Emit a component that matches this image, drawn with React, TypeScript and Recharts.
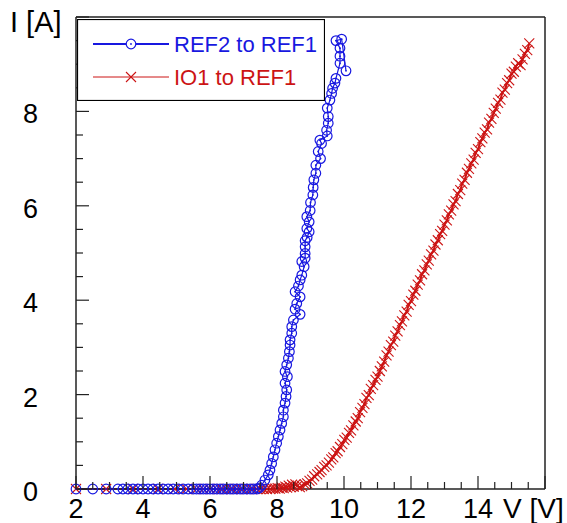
import { LineChart, Line, XAxis, YAxis, Legend, Label } from "recharts";

// V [V] / I [A] readings
const ref2ToRef1 = [
  [2.0, 0], [2.5, 0], [2.9, 0], [3.25, 0], [3.4, 0], [3.55, 0], [3.7, 0], [3.85, 0], [4.0, 0], [4.15, 0],
  [4.3, 0], [4.45, 0], [4.6, 0], [4.75, 0], [4.9, 0], [5.05, 0], [5.2, 0], [5.35, 0], [5.5, 0], [5.6, 0],
  [5.7, 0], [5.8, 0], [5.9, 0], [6.0, 0], [6.1, 0], [6.2, 0], [6.3, 0], [6.4, 0], [6.5, 0], [6.6, 0],
  [6.7, 0], [6.8, 0], [6.9, 0], [7.0, 0], [7.1, 0], [7.2, 0], [7.3, 0], [7.4, 0], [7.47, 0.02],
  [7.54, 0.08], [7.64, 0.19], [7.74, 0.3], [7.79, 0.4], [7.84, 0.54], [7.89, 0.68], [7.94, 0.83], [7.99, 0.97],
  [8.04, 1.11], [8.09, 1.25], [8.14, 1.39], [8.19, 1.53], [8.19, 1.67], [8.24, 1.82], [8.27, 1.96], [8.29, 2.1],
  [8.24, 2.24], [8.31, 2.38], [8.24, 2.49], [8.29, 2.63], [8.34, 2.77], [8.37, 2.91], [8.39, 3.05], [8.39, 3.16],
  [8.44, 3.3], [8.44, 3.44], [8.49, 3.58], [8.69, 3.7], [8.54, 3.81], [8.59, 3.93], [8.69, 4.07], [8.54, 4.18],
  [8.64, 4.3], [8.69, 4.43], [8.74, 4.53], [8.81, 4.71], [8.74, 4.82], [8.84, 4.89], [8.84, 4.99], [8.84, 5.13],
  [8.84, 5.26], [8.9, 5.33], [8.96, 5.45], [8.89, 5.52], [8.96, 5.66], [8.89, 5.77], [8.99, 5.9], [9.0, 6.07],
  [9.07, 6.23], [9.08, 6.39], [9.1, 6.55], [9.16, 6.69], [9.16, 6.86], [9.3, 7.0], [9.23, 7.15], [9.33, 7.32],
  [9.28, 7.39], [9.5, 7.48], [9.48, 7.6], [9.53, 7.75], [9.53, 7.89], [9.5, 8.07], [9.58, 8.24], [9.63, 8.38],
  [9.66, 8.49], [9.73, 8.6], [9.76, 8.7], [9.88, 9.02], [9.88, 9.17], [9.88, 9.34], [9.76, 9.5], [9.93, 9.53],
  [10.06, 8.86],
].map(([v, i]) => ({ v, i }));

const io1ToRef1 = [
  [2.0, 0], [2.9, 0], [3.7, 0], [4.45, 0], [4.95, 0], [5.3, 0], [5.6, 0], [5.8, 0], [6.0, 0], [6.2, 0],
  [6.35, 0], [6.5, 0], [6.65, 0], [6.8, 0], [6.95, 0], [7.1, 0], [7.25, 0], [7.4, 0], [7.5, 0], [7.6, 0],
  [7.7, 0], [7.8, 0], [7.88, 0.01], [7.95, 0.01], [8.02, 0.02], [8.08, 0.01], [8.14, 0.03], [8.2, 0.02],
  [8.25, 0.05], [8.3, 0.03], [8.35, 0.07], [8.4, 0.04], [8.45, 0.09], [8.5, 0.05], [8.55, 0.1], [8.6, 0.06],
  [8.68, 0.04], [8.75, 0.06], [8.83, 0.1], [8.9, 0.12], [8.97, 0.17], [9.05, 0.2], [9.11, 0.27], [9.2, 0.31],
  [9.27, 0.36], [9.33, 0.4], [9.41, 0.47], [9.48, 0.5], [9.55, 0.56], [9.62, 0.63], [9.68, 0.67], [9.75, 0.76],
  [9.81, 0.8], [9.88, 0.89], [9.95, 0.95], [10.01, 1.04], [10.08, 1.09], [10.15, 1.19], [10.21, 1.24], [10.28, 1.35],
  [10.35, 1.43], [10.41, 1.5], [10.48, 1.63], [10.55, 1.72], [10.61, 1.8], [10.67, 1.93], [10.74, 1.99], [10.8, 2.12],
  [10.87, 2.2], [10.94, 2.31], [11.0, 2.38], [11.07, 2.5], [11.13, 2.6], [11.2, 2.7], [11.27, 2.83], [11.33, 2.91],
  [11.4, 3.05], [11.47, 3.12], [11.53, 3.25], [11.6, 3.34], [11.67, 3.47], [11.73, 3.55], [11.8, 3.68], [11.87, 3.76],
  [11.93, 3.9], [12.0, 3.98], [12.07, 4.12], [12.13, 4.2], [12.2, 4.33], [12.27, 4.42], [12.33, 4.55], [12.4, 4.63],
  [12.47, 4.76], [12.53, 4.84], [12.6, 4.97], [12.67, 5.05], [12.73, 5.18], [12.8, 5.27], [12.87, 5.4], [12.93, 5.47],
  [13.0, 5.6], [13.07, 5.69], [13.13, 5.82], [13.2, 5.9], [13.27, 6.03], [13.33, 6.1], [13.4, 6.25], [13.47, 6.33],
  [13.53, 6.47], [13.6, 6.55], [13.67, 6.7], [13.73, 6.78], [13.8, 6.9], [13.87, 6.98], [13.93, 7.12], [14.0, 7.2],
  [14.07, 7.35], [14.13, 7.43], [14.2, 7.55], [14.27, 7.62], [14.33, 7.76], [14.4, 7.84], [14.47, 7.97], [14.53, 8.06],
  [14.6, 8.18], [14.67, 8.25], [14.73, 8.4], [14.8, 8.46], [14.87, 8.6], [14.93, 8.66], [15.0, 8.8], [15.07, 8.84],
  [15.13, 8.95], [15.2, 9.02], [15.27, 8.98], [15.33, 9.1], [15.4, 9.22], [15.47, 9.3], [15.53, 9.44],
].map(([v, i]) => ({ v, i }));

const xTicks = [2, 2.5, 3, 3.5, 4, 4.5, 5, 5.5, 6, 6.5, 7, 7.5, 8, 8.5, 9, 9.5, 10, 10.5, 11, 11.5, 12, 12.5, 13, 13.5, 14, 14.5, 15, 15.5, 16];
const yTicks = [0, 0.5, 1, 1.5, 2, 2.5, 3, 3.5, 4, 4.5, 5, 5.5, 6, 6.5, 7, 7.5, 8, 8.5, 9, 9.5, 10];
const xLabeled = [2, 4, 6, 8, 10, 12, 14];
const yLabeled = [0, 2, 4, 6, 8];

const BLUE = "#1818e0";
const RED = "#cc1414";
const FONT = "'Liberation Sans', Arial, sans-serif";
const AXIS = "#222";

const isMajor = (v: number) => v % 2 === 0;

function BottomTick({ x, y, payload }: any) {
  const v = payload.value;
  return (
    <g>
      <line x1={x} x2={x} y1={y} y2={y - (isMajor(v) ? 13 : 7)} stroke={AXIS} strokeWidth={1.2} />
      {xLabeled.includes(v) && (
        <text x={x} y={y + 29} textAnchor="middle" fontSize={27} fontFamily={FONT} fill="#000">
          {v}
        </text>
      )}
    </g>
  );
}

function TopTick({ x, y, payload }: any) {
  const v = payload.value;
  return <line x1={x} x2={x} y1={y} y2={y + (isMajor(v) ? 13 : 7)} stroke={AXIS} strokeWidth={1.2} />;
}

function LeftTick({ x, y, payload }: any) {
  const v = payload.value;
  return (
    <g>
      <line x1={x} x2={x + (isMajor(v) ? 13 : 7)} y1={y} y2={y} stroke={AXIS} strokeWidth={1.2} />
      {yLabeled.includes(v) && (
        <text x={x - 38} y={y + 12} textAnchor="end" fontSize={27} fontFamily={FONT} fill="#000">
          {v}
        </text>
      )}
    </g>
  );
}

function RightTick({ x, y, payload }: any) {
  const v = payload.value;
  return <line x1={x} x2={x - (isMajor(v) ? 13 : 7)} y1={y} y2={y} stroke={AXIS} strokeWidth={1.2} />;
}

function CircleDot({ cx, cy, index }: any) {
  if (cx == null || cy == null) return <g key={index} />;
  return (
    <g key={index}>
      <circle cx={cx} cy={cy} r={4.8} fill="none" stroke={BLUE} strokeWidth={1.2} />
      <circle cx={cx} cy={cy} r={0.9} fill={BLUE} />
    </g>
  );
}

function CrossDot({ cx, cy, index }: any) {
  if (cx == null || cy == null) return <g key={index} />;
  const s = 5;
  return (
    <g key={index} stroke={RED} strokeWidth={1.1}>
      <line x1={cx - s} y1={cy - s} x2={cx + s} y2={cy + s} />
      <line x1={cx - s} y1={cy + s} x2={cx + s} y2={cy - s} />
    </g>
  );
}

function LegendBox() {
  return (
    <svg width={248} height={82} style={{ display: "block" }}>
      <rect x={0.5} y={0.5} width={247} height={81} fill="#fff" stroke="#000" strokeWidth={1.2} />
      <line x1={16} x2={92} y1={25} y2={25} stroke={BLUE} strokeWidth={2} />
      <circle cx={54} cy={25} r={4.8} fill="#fff" stroke={BLUE} strokeWidth={1.2} />
      <circle cx={54} cy={25} r={0.9} fill={BLUE} />
      <text x={97} y={33} fontSize={22} fontFamily={FONT} fill={BLUE}>REF2 to REF1</text>
      <line x1={16} x2={92} y1={58} y2={58} stroke={RED} strokeWidth={1} />
      <g stroke={RED} strokeWidth={1.1}>
        <line x1={49} y1={53} x2={59} y2={63} />
        <line x1={49} y1={63} x2={59} y2={53} />
      </g>
      <text x={97} y={66} fontSize={22} fontFamily={FONT} fill={RED}>IO1 to REF1</text>
    </svg>
  );
}

export default function App() {
  return (
    <div style={{ position: "absolute", left: 0, top: 0, width: 567, height: 523, background: "#fff" }}>
      <LineChart width={567} height={523} margin={{ top: 0, right: 0, bottom: 0, left: 0 }}>
        <XAxis
          xAxisId="bottom"
          dataKey="v"
          type="number"
          domain={[2, 16]}
          ticks={xTicks}
          interval={0}
          height={34}
          tickSize={0}
          tickMargin={0}
          tickLine={false}
          tick={<BottomTick />}
          axisLine={{ stroke: AXIS, strokeWidth: 1.5 }}
        >
          <Label
            content={({ viewBox }: any) => (
              <text x={viewBox.x + viewBox.width - 42} y={viewBox.y + 29} fontSize={28} fontFamily={FONT} fill="#000">
                V [V]
              </text>
            )}
          />
        </XAxis>
        <XAxis
          xAxisId="top"
          orientation="top"
          dataKey="v"
          type="number"
          domain={[2, 16]}
          ticks={xTicks}
          interval={0}
          height={17}
          tickSize={0}
          tickMargin={0}
          tickLine={false}
          tick={<TopTick />}
          axisLine={{ stroke: AXIS, strokeWidth: 1.5 }}
        />
        <YAxis
          yAxisId="left"
          type="number"
          domain={[0, 10]}
          ticks={yTicks}
          interval={0}
          width={76}
          tickSize={0}
          tickMargin={0}
          tickLine={false}
          tick={<LeftTick />}
          axisLine={{ stroke: AXIS, strokeWidth: 1.5 }}
        >
          <Label
            content={({ viewBox }: any) => (
              <text x={viewBox.x + 10} y={viewBox.y + 15} fontSize={29} fontFamily={FONT} fill="#000">
                I [A]
              </text>
            )}
          />
        </YAxis>
        <YAxis
          yAxisId="right"
          orientation="right"
          type="number"
          domain={[0, 10]}
          ticks={yTicks}
          interval={0}
          width={22}
          tickSize={0}
          tickMargin={0}
          tickLine={false}
          tick={<RightTick />}
          axisLine={{ stroke: AXIS, strokeWidth: 1.5 }}
        />
        <Legend
          layout="horizontal"
          verticalAlign="middle"
          align="center"
          wrapperStyle={{ left: 77, top: 19, width: 248, height: 82 }}
          content={() => <LegendBox />}
        />
        <Line
          xAxisId="bottom"
          yAxisId="left"
          data={io1ToRef1}
          dataKey="i"
          name="IO1 to REF1"
          stroke={RED}
          strokeWidth={2}
          dot={<CrossDot />}
          activeDot={false}
          isAnimationActive={false}
        />
        <Line
          xAxisId="bottom"
          yAxisId="left"
          data={ref2ToRef1}
          dataKey="i"
          name="REF2 to REF1"
          stroke={BLUE}
          strokeWidth={1.2}
          dot={<CircleDot />}
          activeDot={false}
          isAnimationActive={false}
        />
      </LineChart>
    </div>
  );
}
